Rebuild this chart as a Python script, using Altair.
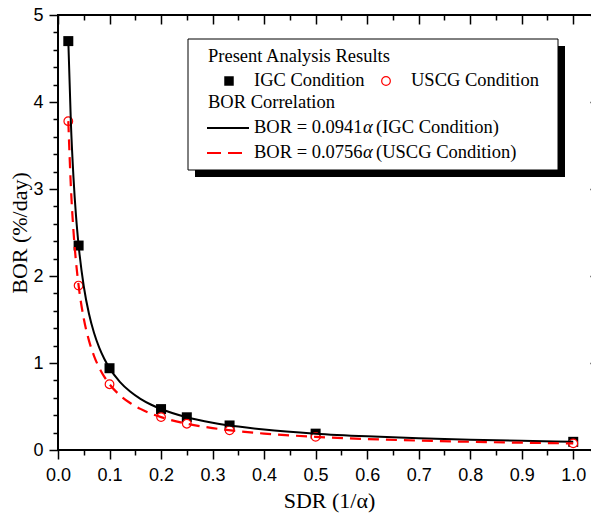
import altair as alt
import pandas as pd

# ---- data ----
sdr = [0.02, 0.04, 0.1, 0.2, 0.25, 0.333, 0.5, 1.0]
bor_igc = [4.70, 2.35, 0.94, 0.47, 0.376, 0.282, 0.188, 0.094]
bor_uscg = [3.78, 1.89, 0.756, 0.378, 0.302, 0.227, 0.151, 0.076]

curve_sdr = [0.02, 0.025, 0.03, 0.035, 0.04, 0.05, 0.06, 0.07, 0.08, 0.09, 0.1,
             0.12, 0.14, 0.16, 0.18, 0.2, 0.25, 0.3, 0.35, 0.4, 0.5, 0.6, 0.7,
             0.8, 0.9, 1.0]
curve_igc = [4.705, 3.764, 3.137, 2.689, 2.353, 1.882, 1.568, 1.344, 1.176, 1.046,
             0.941, 0.784, 0.672, 0.588, 0.523, 0.471, 0.376, 0.314, 0.269, 0.235,
             0.188, 0.157, 0.134, 0.118, 0.105, 0.094]
curve_uscg = [3.78, 3.024, 2.52, 2.16, 1.89, 1.512, 1.26, 1.08, 0.945, 0.84,
              0.756, 0.63, 0.54, 0.4725, 0.42, 0.378, 0.302, 0.252, 0.216, 0.189,
              0.151, 0.126, 0.108, 0.0945, 0.084, 0.0756]

x_major = [0.0, 0.1, 0.2, 0.3, 0.4, 0.5, 0.6, 0.7, 0.8, 0.9, 1.0]
x_minor = [0.05, 0.15, 0.25, 0.35, 0.45, 0.55, 0.65, 0.75, 0.85, 0.95]
y_major = [0, 1, 2, 3, 4, 5]
y_minor = [0.2, 0.4, 0.6, 0.8, 1.2, 1.4, 1.6, 1.8, 2.2, 2.4, 2.6, 2.8,
           3.2, 3.4, 3.6, 3.8, 4.2, 4.4, 4.6, 4.8]

x_title = "SDR (1/α)"
y_title = "BOR (%/day)"
legend_head1 = "Present Analysis Results"
legend_head2 = "BOR Correlation"
series_names = ["IGC Condition", "USCG Condition"]
corr_prefix = ["BOR = 0.0941", "BOR = 0.0756"]
corr_suffix = ["(IGC Condition)", "(USCG Condition)"]

pts = pd.DataFrame({"sdr": sdr, "igc": bor_igc, "uscg": bor_uscg})
cur = pd.DataFrame({"sdr": curve_sdr, "igc": curve_igc, "uscg": curve_uscg})
one = pd.DataFrame({"a": [0]})

W, H = 541, 435
SERIF = "Liberation Serif"
SANS = "Liberation Sans"

xs = alt.Scale(domain=[0, 1.05], nice=False, zero=False)
ys = alt.Scale(domain=[0, 5], nice=False, zero=False)

x_all = sorted(x_major + x_minor)
y_all = sorted(y_major + y_minor)

ax_bottom = alt.Axis(
    orient="bottom", values=x_all, domain=False, grid=False,
    tickSize={"condition": {"test": "abs(datum.value*10 - round(datum.value*10)) < 0.001", "value": 9}, "value": 5},
    tickColor="black", tickWidth=1.5,
    labelExpr="abs(datum.value*10 - round(datum.value*10)) < 0.001 ? format(datum.value, '.1f') : ''",
    labelFont=SANS, labelFontSize=18, labelColor="black", labelPadding=7,
    labelOverlap=False, labelFlush=False, labelBound=False,
    title=x_title, titleFont=SERIF, titleFontSize=22, titleFontWeight="normal",
    titleColor="black", titleBaseline="alphabetic", titleX=271, titleY=57,
)
ax_left = alt.Axis(
    orient="left", values=y_all, domain=False, grid=False,
    tickSize={"condition": {"test": "abs(datum.value - round(datum.value)) < 0.001", "value": 9}, "value": 5},
    tickColor="black", tickWidth=1.5,
    labelExpr="abs(datum.value - round(datum.value)) < 0.001 ? format(datum.value, 'd') : ''",
    labelFont=SANS, labelFontSize=18, labelColor="black", labelPadding=6,
    labelOverlap=False, labelFlush=False, labelBound=False,
    title=y_title, titleFont=SERIF, titleFontSize=22, titleFontWeight="normal",
    titleColor="black", titleBaseline="alphabetic", titleX=-32, titleY=217.5,
)
ax_top_major = alt.Axis(orient="top", values=x_major, domain=False, grid=False,
                        labels=False, tickSize=9, offset=-9, tickColor="black",
                        tickWidth=1.5, title=None)
ax_top_minor = alt.Axis(orient="top", values=x_minor, domain=False, grid=False,
                        labels=False, tickSize=5, offset=-5, tickColor="black",
                        tickWidth=1.5, title=None)
ax_right_major = alt.Axis(orient="right", values=y_major, domain=False, grid=False,
                          labels=False, tickSize=9, offset=-9, tickColor="black",
                          tickWidth=1.5, title=None)
ax_right_minor = alt.Axis(orient="right", values=y_minor, domain=False, grid=False,
                          labels=False, tickSize=5, offset=-5, tickColor="black",
                          tickWidth=1.5, title=None)

base_pts = alt.Chart(pts)
base_cur = alt.Chart(cur)

squares = base_pts.mark_point(shape="square", filled=True, color="black", size=100, opacity=1).encode(
    x=alt.X("sdr:Q", scale=xs, axis=ax_top_major),
    y=alt.Y("igc:Q", scale=ys, axis=ax_right_major),
)
circles = base_pts.mark_point(shape="circle", filled=False, fill="white", fillOpacity=1,
                              stroke="red", strokeWidth=1.2, size=75, opacity=1).encode(
    x=alt.X("sdr:Q", scale=xs, axis=ax_top_minor),
    y=alt.Y("uscg:Q", scale=ys, axis=ax_right_minor),
)
solid = base_cur.mark_line(color="black", strokeWidth=2, interpolate="monotone").encode(
    x=alt.X("sdr:Q", scale=xs, axis=ax_bottom),
    y=alt.Y("igc:Q", scale=ys, axis=ax_left),
)
dashed = base_cur.mark_line(color="red", strokeWidth=2.2, strokeDash=[11, 7],
                            interpolate="monotone").encode(
    x=alt.X("sdr:Q", scale=xs, axis=None),
    y=alt.Y("uscg:Q", scale=ys, axis=None),
)

# ---- custom legend box (pixel layout) ----
L = alt.Chart(one)
shadow = L.mark_rect(color="black").encode(
    x=alt.value(137), x2=alt.value(507), y=alt.value(31), y2=alt.value(162))
box = L.mark_rect(fill="white", stroke="black", strokeWidth=1).encode(
    x=alt.value(130), x2=alt.value(500), y=alt.value(24), y2=alt.value(155))


def txt(s, x, y, style="normal"):
    return L.mark_text(align="left", baseline="alphabetic", font=SERIF, fontSize=18.5,
                       fontStyle=style, color="black").encode(
        x=alt.value(x), y=alt.value(y), text=alt.value(s))


leg_items = [
    txt(legend_head1, 150, 47),
    txt(series_names[0], 196, 71),
    txt(series_names[1], 353, 71),
    txt(legend_head2, 150, 93),
    txt(corr_prefix[0], 196, 118),
    txt("α", 305, 118, "italic"),
    txt(corr_suffix[0], 318, 118),
    txt(corr_prefix[1], 196, 143),
    txt("α", 305, 143, "italic"),
    txt(corr_suffix[1], 318, 143),
]
leg_sq = L.mark_point(shape="square", filled=True, color="black", size=90, opacity=1).encode(
    x=alt.value(171), y=alt.value(66))
leg_ci = L.mark_point(shape="circle", filled=False, stroke="red", strokeWidth=1.2, size=75,
                      opacity=1).encode(x=alt.value(328), y=alt.value(66))
leg_solid = L.mark_rule(color="black", strokeWidth=2).encode(
    x=alt.value(149), x2=alt.value(191), y=alt.value(113))
leg_dash = L.mark_rule(color="red", strokeWidth=2.2, strokeDash=[14, 7]).encode(
    x=alt.value(149), x2=alt.value(184), y=alt.value(138))

chart = alt.layer(
    squares, circles, solid, dashed,
    shadow, box, leg_sq, leg_ci, leg_solid, leg_dash, *leg_items,
).resolve_axis(x="independent", y="independent").properties(
    width=W, height=H,
    autosize=alt.AutoSizeParams(type="none"),
    padding={"left": 50, "top": 7, "right": -8, "bottom": 63},
    background="white",
).configure_view(stroke="black", strokeWidth=2)

chart.save("out.html", embed_options={"renderer": "svg", "actions": False})
